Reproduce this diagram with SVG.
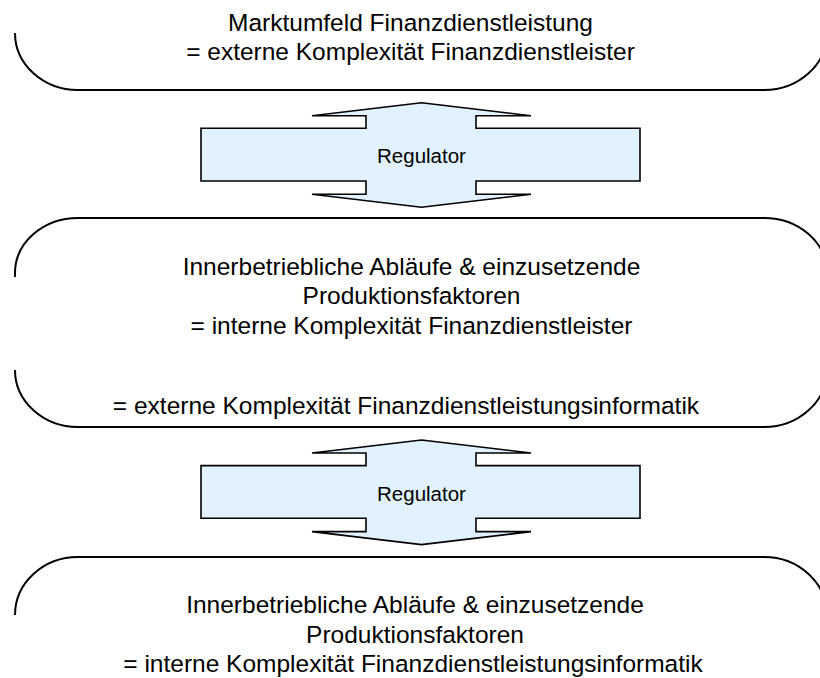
<svg xmlns="http://www.w3.org/2000/svg" width="820" height="678" viewBox="0 0 820 678">
  <style>
    .frame { fill: none; stroke: #000; stroke-width: 2; }
    .label { font-family: "Liberation Sans", Arial, sans-serif; font-size: 24.5px; fill: #000; text-anchor: middle; }
    .reg-shape { fill: #E1F2FE; stroke: #000; stroke-width: 1.6; stroke-linejoin: miter; }
    .reg-text { font-family: "Liberation Sans", Arial, sans-serif; font-size: 20.5px; fill: #000; text-anchor: middle; }
  </style>
  <defs>
    <!-- double-headed vertical arrow crossed by a horizontal bar -->
    <path id="regulator-arrow" d="M 421.5 102.7 L 531 115.7 L 476 115.7 L 476 128.3 L 640 128.3 L 640 181 L 476 181 L 476 194.3 L 531 194.3 L 421.5 207.3 L 312 194.3 L 366 194.3 L 366 181 L 201 181 L 201 128.3 L 366 128.3 L 366 115.7 L 312 115.7 Z"/>
  </defs>

  <rect width="820" height="678" fill="#fff"/>

  <!-- market environment -->
  <g id="markt">
    <path class="frame" d="M 15 33 A 63 57 0 0 0 78 90 L 764 90 A 63 57 0 0 0 827 33"/>
    <text class="label" x="410.5" y="30.5">Marktumfeld Finanzdienstleistung</text>
    <text class="label" x="410.5" y="60">= externe Komplexität Finanzdienstleister</text>
  </g>

  <!-- internal processes of the financial service provider -->
  <g id="finanzdienstleister">
    <path class="frame" d="M 15 277 L 15 273 A 63 55 0 0 1 78 218 L 764 218 A 63 55 0 0 1 827 273 L 827 277"/>
    <path class="frame" d="M 15 370 A 63 57 0 0 0 78 427 L 764 427 A 63 57 0 0 0 827 370"/>
    <text class="label" x="411.5" y="274.5">Innerbetriebliche Abläufe &amp; einzusetzende</text>
    <text class="label" x="411.5" y="304">Produktionsfaktoren</text>
    <text class="label" x="411.5" y="333.5">= interne Komplexität Finanzdienstleister</text>
    <text class="label" x="406" y="414">= externe Komplexität Finanzdienstleistungsinformatik</text>
  </g>

  <!-- internal processes of financial services IT -->
  <g id="informatik">
    <path class="frame" d="M 15 615 A 63 58 0 0 1 78 557 L 764 557 A 63 58 0 0 1 827 615"/>
    <text class="label" x="415" y="613">Innerbetriebliche Abläufe &amp; einzusetzende</text>
    <text class="label" x="415" y="642.5">Produktionsfaktoren</text>
    <text class="label" x="413" y="672">= interne Komplexität Finanzdienstleistungsinformatik</text>
  </g>

  <!-- regulator arrows between the levels -->
  <g id="connectors">
    <g id="regulator-1">
      <use href="#regulator-arrow" class="reg-shape"/>
      <text class="reg-text" x="421.5" y="163.3">Regulator</text>
    </g>
    <g id="regulator-2" transform="translate(0 337.3)">
      <use href="#regulator-arrow" class="reg-shape"/>
      <text class="reg-text" x="421.5" y="163.3">Regulator</text>
    </g>
  </g>
</svg>
